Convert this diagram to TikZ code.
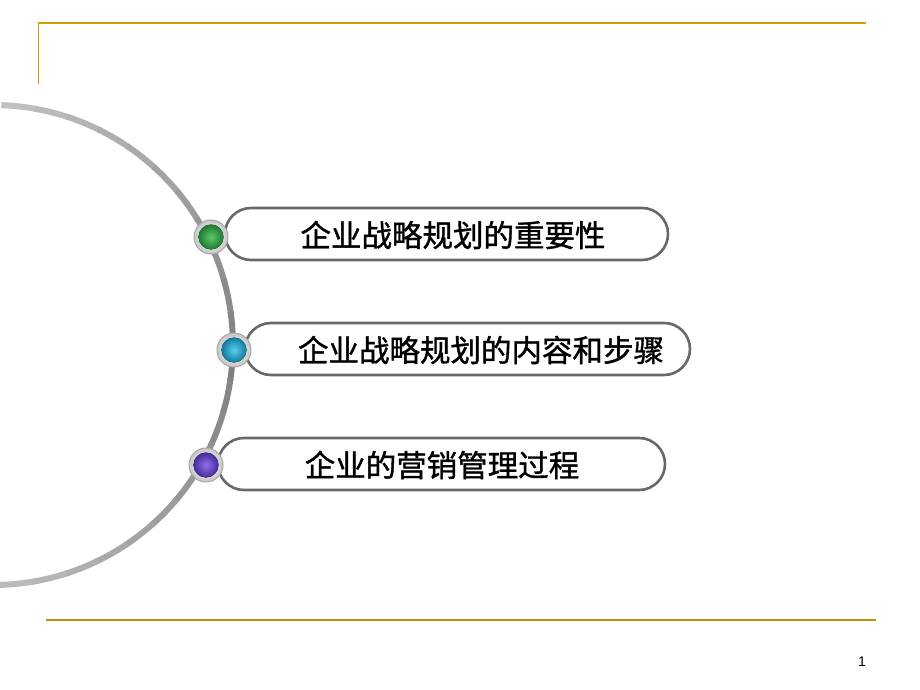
\documentclass[tikz,border=0pt]{standalone}
\usepackage{fontspec}
\setmainfont{Liberation Sans}
\newfontfamily\cjk[FakeBold=1.2]{Noto Sans CJK SC}
\begin{document}
\begin{tikzpicture}[x=1pt,y=-1pt,
  goldline/.style={draw=gold,line width=2pt},
  itembox/.style={draw=boxgray,line width=2.6pt,fill=white,rounded corners=26pt,minimum height=52pt,inner sep=0pt},
  itemtext/.style={font=\cjk\fontsize{30.5}{33}\selectfont,text=black,inner sep=0pt},
  ring/.style={circle,draw=ringgray,line width=1pt,inner color=white,outer color=black!22,minimum size=34pt,inner sep=0pt}
]
\definecolor{gold}{HTML}{D4A000}
\definecolor{boxgray}{HTML}{686868}
\definecolor{ringgray}{HTML}{A8A8A8}
\definecolor{gin}{HTML}{5CC86A}
\definecolor{gout}{HTML}{1E7A30}
\definecolor{bin}{HTML}{5AD0F0}
\definecolor{bout}{HTML}{127A9E}
\definecolor{pin}{HTML}{8A70E8}
\definecolor{pout}{HTML}{4A2A9A}
\useasboundingbox (0,0) rectangle (920,690);
% frame lines
\coordinate (tl) at (38,23);
\coordinate (tr) at (866,23);
\coordinate (vl) at (38,84);
\coordinate (bl) at (46,620);
\coordinate (br) at (876,620);
\draw[goldline] (tl) -- (tr);
\draw[draw=gold!70!orange,line width=1pt] (tl) -- (vl);
\draw[draw=gold!90!black,line width=2.6pt] (bl) -- (br);
% arc
\coordinate (C) at (-7.1,345);
\foreach \a in {88,80,...,-80}{
  \pgfmathsetmacro{\p}{24+26*(1-abs(\a)/90)}
  \draw[draw=black!\p,line width=6pt] (C) ++(\a:240pt) arc[start angle=\a, end angle=\a-8.6, radius=240pt];
}
% boxes
\node[itembox,minimum width=443pt] (b1) at (446.5,234) {};
\node[itembox,minimum width=445pt] (b2) at (467.5,349) {};
\node[itembox,minimum width=447pt] (b3) at (441.5,464) {};
\node[itemtext] (t1) at (453,235) {企业战略规划的重要性};
\node[itemtext] (t2) at (481,350) {企业战略规划的内容和步骤};
\node[itemtext] (t3) at (442,465) {企业的营销管理过程};
% bullets
\node[ring] (r1) at (211,237) {};
\node[ring] (r2) at (234,350) {};
\node[ring] (r3) at (206,465) {};
\fill[inner color=gin,outer color=gout] (r1.center) circle[radius=12.5pt];
\fill[inner color=bin,outer color=bout] (r2.center) circle[radius=12.5pt];
\fill[inner color=pin,outer color=pout] (r3.center) circle[radius=12.5pt];
% page number
\node[font=\fontsize{14}{16}\selectfont,inner sep=0pt] (pn) at (862,662) {1};
\end{tikzpicture}
\end{document}
